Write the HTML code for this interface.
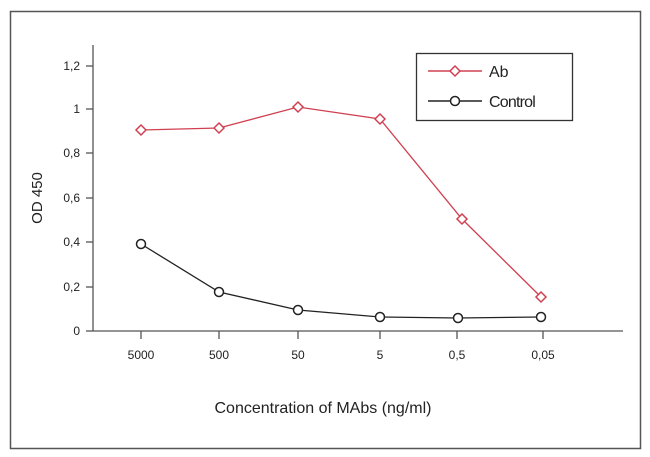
<!DOCTYPE html>
<html><head><style>body{margin:0;background:#fff}svg{display:block}text{font-family:"Liberation Sans",Arial,sans-serif;fill:#222}</style></head><body>
<svg width="650" height="457" xmlns="http://www.w3.org/2000/svg">
<rect x="10.5" y="11.5" width="630" height="437" fill="#fff" stroke="#555" stroke-width="1.5"/>
<g stroke="#555" stroke-width="1.3" fill="none">
<line x1="93" y1="45" x2="93" y2="331"/>
<line x1="93" y1="331" x2="623" y2="331"/>
<line x1="86" y1="66" x2="93" y2="66"/><line x1="86" y1="109" x2="93" y2="109"/><line x1="86" y1="153" x2="93" y2="153"/><line x1="86" y1="198" x2="93" y2="198"/><line x1="86" y1="242" x2="93" y2="242"/><line x1="86" y1="287" x2="93" y2="287"/><line x1="86" y1="331" x2="93" y2="331"/>
<line x1="141" y1="331" x2="141" y2="339"/><line x1="219" y1="331" x2="219" y2="339"/><line x1="298" y1="331" x2="298" y2="339"/><line x1="380" y1="331" x2="380" y2="339"/><line x1="457" y1="331" x2="457" y2="339"/><line x1="543" y1="331" x2="543" y2="339"/>
</g>
<g font-size="12" text-anchor="end">
<text x="80" y="70">1,2</text><text x="80" y="113">1</text><text x="80" y="157">0,8</text><text x="80" y="202">0,6</text><text x="80" y="246">0,4</text><text x="80" y="291">0,2</text><text x="80" y="335">0</text>
</g>
<g font-size="12" text-anchor="middle">
<text x="141" y="359">5000</text><text x="219" y="359">500</text><text x="298" y="359">50</text><text x="380" y="359">5</text><text x="457" y="359">0,5</text><text x="543" y="359">0,05</text>
</g>
<text x="323" y="413" font-size="16" text-anchor="middle">Concentration of MAbs (ng/ml)</text>
<text transform="translate(42,198) rotate(-90)" font-size="15" text-anchor="middle">OD 450</text>
<polyline points="141,130 219,128 298,107 380,119 462,219 541,297" fill="none" stroke="#d04050" stroke-width="1.3"/>
<g fill="#fff" stroke="#d04050" stroke-width="1.5">
<path d="M141,125 l5,5 -5,5 -5,-5z"/><path d="M219,123 l5,5 -5,5 -5,-5z"/><path d="M298,102 l5,5 -5,5 -5,-5z"/><path d="M380,114 l5,5 -5,5 -5,-5z"/><path d="M462,214 l5,5 -5,5 -5,-5z"/><path d="M541,292 l5,5 -5,5 -5,-5z"/>
</g>
<polyline points="141,244 219,292 298,310 380,317 458,318 541,317" fill="none" stroke="#222" stroke-width="1.3"/>
<g fill="#fff" stroke="#222" stroke-width="1.5">
<circle cx="141" cy="244" r="4.5"/><circle cx="219" cy="292" r="4.5"/><circle cx="298" cy="310" r="4.5"/><circle cx="380" cy="317" r="4.5"/><circle cx="458" cy="318" r="4.5"/><circle cx="541" cy="317" r="4.5"/>
</g>
<rect x="416.5" y="53.5" width="156" height="67" fill="#fff" stroke="#333" stroke-width="1.3"/>
<line x1="428" y1="71" x2="482" y2="71" stroke="#d04050" stroke-width="1.5"/>
<path d="M455,66 l5,5 -5,5 -5,-5z" fill="#fff" stroke="#d04050" stroke-width="1.5"/>
<text x="489" y="77" font-size="16">Ab</text>
<line x1="428" y1="101" x2="482" y2="101" stroke="#222" stroke-width="1.5"/>
<circle cx="455" cy="101" r="4.5" fill="#fff" stroke="#222" stroke-width="1.5"/>
<text x="489" y="107" font-size="16" letter-spacing="-0.8">Control</text>
</svg>
</body></html>
